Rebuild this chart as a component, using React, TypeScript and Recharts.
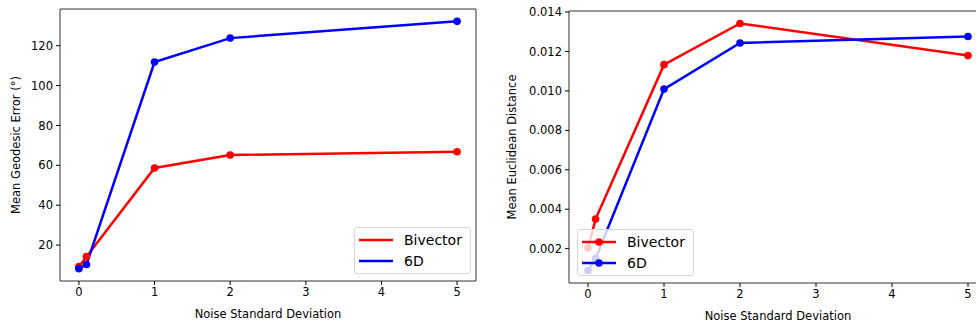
import { LineChart, Line, XAxis, YAxis, Legend, ReferenceArea } from 'recharts';

const noiseStd = [0, 0.1, 1, 2, 5];
const geoBivector = [9.2, 14.2, 58.7, 65.2, 66.8];
const geo6D = [8.2, 10.3, 111.8, 123.8, 132.2];
const eucBivector = [0.00203, 0.0035, 0.01133, 0.01342, 0.01179];
const euc6D = [0.00089, 0.0015, 0.01009, 0.01243, 0.01276];

const seriesNames = ['Bivector', '6D'];
const xTicks = [0, 1, 2, 3, 4, 5];
const geoTicks = [20, 40, 60, 80, 100, 120];
const eucTicks = [0.002, 0.004, 0.006, 0.008, 0.01, 0.012, 0.014];

const geoData = noiseStd.map((x, i) => ({ x, bivector: geoBivector[i], sixd: geo6D[i] }));
const eucData = noiseStd.map((x, i) => ({ x, bivector: eucBivector[i], sixd: euc6D[i] }));

const FONT = '"DejaVu Sans", sans-serif';
const tickStyle = { fontSize: 11.5, fill: '#000', fontFamily: FONT };
const RED = '#ff0000';
const BLUE = '#0000ff';
const X_DOMAIN: [number, number] = [-0.25, 5.25];
const GEO_DOMAIN: [number, number] = [2.0, 138.4];
const EUC_DOMAIN: [number, number] = [0.00026, 0.01405];

interface LegendEntry {
  value?: string;
  color?: string;
}

function makeLegend(withMarker: boolean) {
  return function BoxLegend({ payload }: { payload?: LegendEntry[] }) {
    if (!payload?.length) return null;
    // keep matplotlib's plotting order, not alphabetical
    const items = [...payload].sort(
      (a, b) => seriesNames.indexOf(a.value ?? '') - seriesNames.indexOf(b.value ?? '')
    );
    return (
      <div
        style={{
          border: '1px solid #d6d6d6',
          borderRadius: 3,
          background: 'rgba(255,255,255,0.8)',
          padding: '1px 8px 2px 4px',
          fontFamily: FONT,
          fontSize: 14,
          color: '#000',
        }}
      >
        {items.map((p) => (
          <div key={p.value} style={{ display: 'flex', alignItems: 'center', height: 21 }}>
            <svg width={34} height={10} style={{ marginRight: 11 }}>
              <line x1={0} y1={5} x2={34} y2={5} stroke={p.color} strokeWidth={2.5} />
              {withMarker && <circle cx={17} cy={5} r={3.8} fill={p.color} />}
            </svg>
            <span>{p.value}</span>
          </div>
        ))}
      </div>
    );
  };
}

const GeoLegend = makeLegend(false);
const EucLegend = makeLegend(true);

export default function App() {
  return (
    <div
      style={{
        position: 'fixed',
        left: 0,
        top: 0,
        width: 976,
        height: 327,
        overflow: 'hidden',
        background: '#fff',
      }}
    >
      <div style={{ position: 'absolute', left: 0, top: 0 }}>
        <LineChart width={480} height={327} data={geoData} margin={{ top: 9, right: 4, bottom: 0, left: 0 }}>
          <XAxis
            dataKey="x"
            type="number"
            domain={X_DOMAIN}
            ticks={xTicks}
            allowDataOverflow
            height={46}
            axisLine={false}
            tickSize={4}
            tickMargin={3}
            tick={tickStyle}
            tickLine={{ stroke: '#000' }}
            label={{ value: 'Noise Standard Deviation', position: 'insideBottom', offset: 9, style: tickStyle }}
          />
          <YAxis
            type="number"
            domain={GEO_DOMAIN}
            ticks={geoTicks}
            allowDataOverflow
            width={60}
            axisLine={false}
            tickSize={4}
            tickMargin={3}
            tick={tickStyle}
            tickLine={{ stroke: '#000' }}
            label={{ value: 'Mean Geodesic Error (°)', angle: -90, position: 'center', dx: -14, style: tickStyle }}
          />
          <ReferenceArea x1={X_DOMAIN[0]} x2={X_DOMAIN[1]} y1={GEO_DOMAIN[0]} y2={GEO_DOMAIN[1]} fill="none" stroke="#333" strokeWidth={1} />
          <Line dataKey="bivector" name="Bivector" stroke={RED} strokeWidth={2.5} dot={{ r: 3.8, fill: RED, stroke: RED, strokeWidth: 0 }} isAnimationActive={false} />
          <Line dataKey="sixd" name="6D" stroke={BLUE} strokeWidth={2.5} dot={{ r: 3.8, fill: BLUE, stroke: BLUE, strokeWidth: 0 }} isAnimationActive={false} />
          <Legend
            layout="horizontal"
            verticalAlign="middle"
            align="center"
            content={<GeoLegend />}
            wrapperStyle={{ left: 354, top: 227, width: 'auto' }}
          />
        </LineChart>
      </div>
      <div style={{ position: 'absolute', left: 480, top: 0 }}>
        <LineChart width={507} height={327} data={eucData} margin={{ top: 11, right: 0, bottom: 0, left: 0 }}>
          <XAxis
            dataKey="x"
            type="number"
            domain={X_DOMAIN}
            ticks={xTicks}
            allowDataOverflow
            height={44}
            axisLine={false}
            tickSize={4}
            tickMargin={3}
            tick={tickStyle}
            tickLine={{ stroke: '#000' }}
            label={{ value: 'Noise Standard Deviation', position: 'insideBottom', offset: 7, style: tickStyle }}
          />
          <YAxis
            type="number"
            domain={EUC_DOMAIN}
            ticks={eucTicks}
            allowDataOverflow
            width={89}
            axisLine={false}
            tickSize={4}
            tickMargin={3}
            tick={tickStyle}
            tickLine={{ stroke: '#000' }}
            tickFormatter={(v: number) => v.toFixed(3)}
            label={{ value: 'Mean Euclidean Distance', angle: -90, position: 'center', dx: -12.5, style: tickStyle }}
          />
          <ReferenceArea x1={X_DOMAIN[0]} x2={X_DOMAIN[1]} y1={EUC_DOMAIN[0]} y2={EUC_DOMAIN[1]} fill="none" stroke="#333" strokeWidth={1} />
          <Line dataKey="bivector" name="Bivector" stroke={RED} strokeWidth={2.5} dot={{ r: 3.8, fill: RED, stroke: RED, strokeWidth: 0 }} isAnimationActive={false} />
          <Line dataKey="sixd" name="6D" stroke={BLUE} strokeWidth={2.5} dot={{ r: 3.8, fill: BLUE, stroke: BLUE, strokeWidth: 0 }} isAnimationActive={false} />
          <Legend
            layout="horizontal"
            verticalAlign="middle"
            align="center"
            content={<EucLegend />}
            wrapperStyle={{ left: 97, top: 229, width: 'auto' }}
          />
        </LineChart>
      </div>
    </div>
  );
}
